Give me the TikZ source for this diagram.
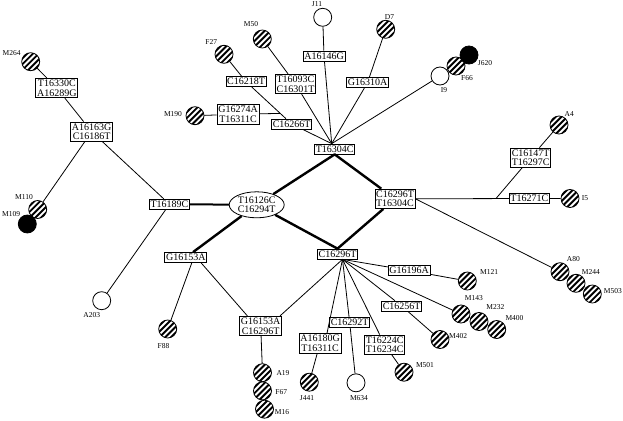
\documentclass[tikz,border=0pt]{standalone}
\usepackage{fontspec}
\setmainfont{Liberation Serif}
\usetikzlibrary{shapes.geometric,calc}
\begin{document}
\begin{tikzpicture}[x=1pt,y=-1pt,
  tn/.style={line width=0.8pt},
  tm/.style={line width=2pt},
  tk/.style={line width=2.4pt, line join=round},
  box/.style={draw, fill=white, line width=0.8pt, inner xsep=1.2pt, inner ysep=1.6pt, align=center, font=\fontsize{10}{9.5}\selectfont},
  ellbox/.style={ellipse, draw, fill=white, line width=0.8pt, inner sep=0pt, minimum width=55pt, minimum height=26pt, align=center, font=\fontsize{10}{9.5}\selectfont},
  lab/.style={inner sep=0pt, font=\fontsize{7.5}{8}\selectfont},
  wc/.style={circle, draw, fill=white, minimum size=18pt, inner sep=0pt, line width=0.8pt},
  bc/.style={wc, fill=black},
  hc/.style={wc, path picture={
     \foreach \k in {-3,...,3}{
       \draw[line width=1.9pt] ([shift={({\k*2.9pt},{-(\k)*2.9pt})}]path picture bounding box.center) ++(-14pt,-14pt) -- ++(28pt,28pt);}}}
]
\useasboundingbox (0,0) rectangle (623,420);

% ---- circles ----
\node[hc] (M264) at (30.7,61.7) {};
\node[hc] (M110) at (37.7,209.5) {};
\node[bc] (M109) at (27.3,224) {};
\node[wc] (A203) at (101.7,300.7) {};
\node[hc] (F88) at (167.7,329) {};
\node[hc] (A19) at (262.5,372.7) {};
\node[hc] (F67) at (262.5,390.9) {};
\node[hc] (M16) at (264.5,409.2) {};
\node[hc] (J441) at (309.3,382.2) {};
\node[wc] (M634) at (356,382.8) {};
\node[hc] (M501) at (404,372.2) {};
\node[hc] (M402) at (440,339.5) {};
\node[hc] (M143) at (461,314) {};
\node[hc] (M232) at (479,321.5) {};
\node[hc] (M400) at (496.7,329.5) {};
\node[hc] (M121) at (467.3,281) {};
\node[hc] (A80) at (560,271.7) {};
\node[hc] (M244) at (576,283.3) {};
\node[hc] (M503) at (592.3,294) {};
\node[hc] (I5) at (570,198.5) {};
\node[hc] (A4) at (559,125) {};
\node[wc] (I9) at (440,76) {};
\node[hc] (F66) at (456,66) {};
\node[bc] (J620) at (469,55) {};
\node[hc] (D7) at (385.7,29.3) {};
\node[wc] (J11) at (322.7,17.3) {};
\node[hc] (M50) at (262.3,39) {};
\node[hc] (F27) at (224,54.3) {};
\node[hc] (M190) at (195,115.7) {};

% ---- circle labels ----
\node[lab] (lM264) at (11.7,53.3) {M264};
\node[lab] (lM110) at (24,196.7) {M110};
\node[lab] (lM109) at (11.2,214) {M109};
\node[lab] (lA203) at (91.7,315) {A203};
\node[lab] (lF88) at (163.5,345.7) {F88};
\node[lab] (lA19) at (283,372.7) {A19};
\node[lab] (lF67) at (281.2,392.3) {F67};
\node[lab] (lM16) at (282,411.7) {M16};
\node[lab] (lJ441) at (307,398.3) {J441};
\node[lab] (lM634) at (359,398.3) {M634};
\node[lab] (lM501) at (425,365) {M501};
\node[lab] (lM402) at (458.2,335.7) {M402};
\node[lab] (lM143) at (473.8,298.3) {M143};
\node[lab] (lM232) at (495.3,307.3) {M232};
\node[lab] (lM400) at (514.5,317.7) {M400};
\node[lab] (lM121) at (489.2,271.7) {M121};
\node[lab] (lA80) at (573.3,259) {A80};
\node[lab] (lM244) at (590.8,271.7) {M244};
\node[lab] (lM503) at (612.8,290.7) {M503};
\node[lab] (lI5) at (585,197.7) {I5};
\node[lab] (lA4) at (569.2,114.3) {A4};
\node[lab] (lI9) at (444,90) {I9};
\node[lab] (lF66) at (467,77.7) {F66};
\node[lab] (lJ620) at (485,63.3) {J620};
\node[lab] (lD7) at (389.5,17.3) {D7};
\node[lab] (lJ11) at (317,4.5) {J11};
\node[lab] (lM50) at (251,24.3) {M50};
\node[lab] (lF27) at (211.3,42.3) {F27};
\node[lab] (lM190) at (173,114.3) {M190};

% ---- boxes ----
\node[box] (b1) at (56.8,88) {T16330C\\A16289G};
\node[box] (b2) at (91.7,131.7) {A16163G\\C16186T};
\node[box] (bT16189C) at (169.5,204.2) {T16189C};
\node[box] (bG16153A) at (185.8,257.5) {G16153A};
\node[ellbox] (ell) at (256.7,204.8) {T16126C\\C16294T};
\node[box] (bT16304C) at (334.7,149) {T16304C};
\node[box] (bC16266T) at (291.7,124) {C16266T};
\node[box] (bG16274A) at (238,114.2) {G16274A\\T16311C};
\node[box] (bC16218T) at (246,81.7) {C16218T};
\node[box] (bT16093C) at (295.5,84) {T16093C\\C16301T};
\node[box] (bA16146G) at (324,56) {A16146G};
\node[box] (bG16310A) at (367.5,82.7) {G16310A};
\node[box] (bCT) at (395,198.8) {C16296T\\T16304C};
\node[box] (bC16147T) at (530.7,157.7) {C16147T\\T16297C};
\node[box] (bT16271C) at (529.3,198.5) {T16271C};
\node[box] (bC16296T) at (337.5,254) {C16296T};
\node[box] (bG16196A) at (409,270.5) {G16196A};
\node[box] (bC16256T) at (401.7,306) {C16256T};
\node[box] (bC16292T) at (349.7,322.7) {C16292T};
\node[box] (bA16180G) at (320,343.3) {A16180G\\T16311C};
\node[box] (bT16224C) at (384.7,344.7) {T16224C\\T16234C};
\node[box] (bGC) at (260.7,326) {G16153A\\C16296T};

% ---- junctions ----
\coordinate (top) at ([xshift=-3pt]bT16304C.north);
\coordinate (hub) at ([xshift=5pt]bC16296T.south);
\coordinate (j1) at (496,198.5);
\coordinate (jg) at ($(bC16218T)!0.75!(bC16266T)$);

% ---- thin edges ----
\draw[tn] (M264) -- (b1) -- (b2) -- (M110);
\draw[tn] (b2) -- (bT16189C);
\draw[tn] (bT16189C) -- (A203);
\draw[tn] ([xshift=6pt]bG16153A.south) -- (F88);
\draw[tn] ([xshift=-6pt]bG16153A.south east) -- ([xshift=8pt]bGC.north west);
\draw[tn] (bGC) -- (A19);

\draw[tn] (top) -- (bC16266T);
\draw[tn] (bC16266T) -- (bC16218T) -- (F27);
\draw[tn] (M190) -- (bG16274A) -- (jg);
\draw[tn] (top) -- (bT16093C) -- (M50);
\draw[tn] (top) -- (bA16146G) -- (J11);
\draw[tn] (top) -- (bG16310A) -- (D7);
\draw[tn] (top) -- (I9);

\draw[tn] (bCT.east) -- (bT16271C) -- (I5);
\draw[tn] (j1) -- (bC16147T) -- (A4);
\draw[tn] (bCT.east) -- (A80);

\draw[tn] (hub) -- ([xshift=-2pt]bGC.north east);
\draw[tn] (hub) -- ([xshift=7pt]bA16180G.north);
\draw[tn] (bA16180G) -- (J441);
\draw[tn] (hub) -- (bC16292T) -- (M634);
\draw[tn] (hub) -- (bT16224C) -- (M501);
\draw[tn] (hub) -- (bC16256T) -- (M402);
\draw[tn] (hub) -- (M143);
\draw[tn] (hub) -- (bG16196A) -- (M121);

% ---- thick edges ----
\draw[tm] (bT16189C) -- (ell);
\draw[tk] (bG16153A) -- (ell);
\draw[tk] (ell) -- (bT16304C.south) -- (bCT) -- (bC16296T.north) -- (ell);
\end{tikzpicture}
\end{document}
